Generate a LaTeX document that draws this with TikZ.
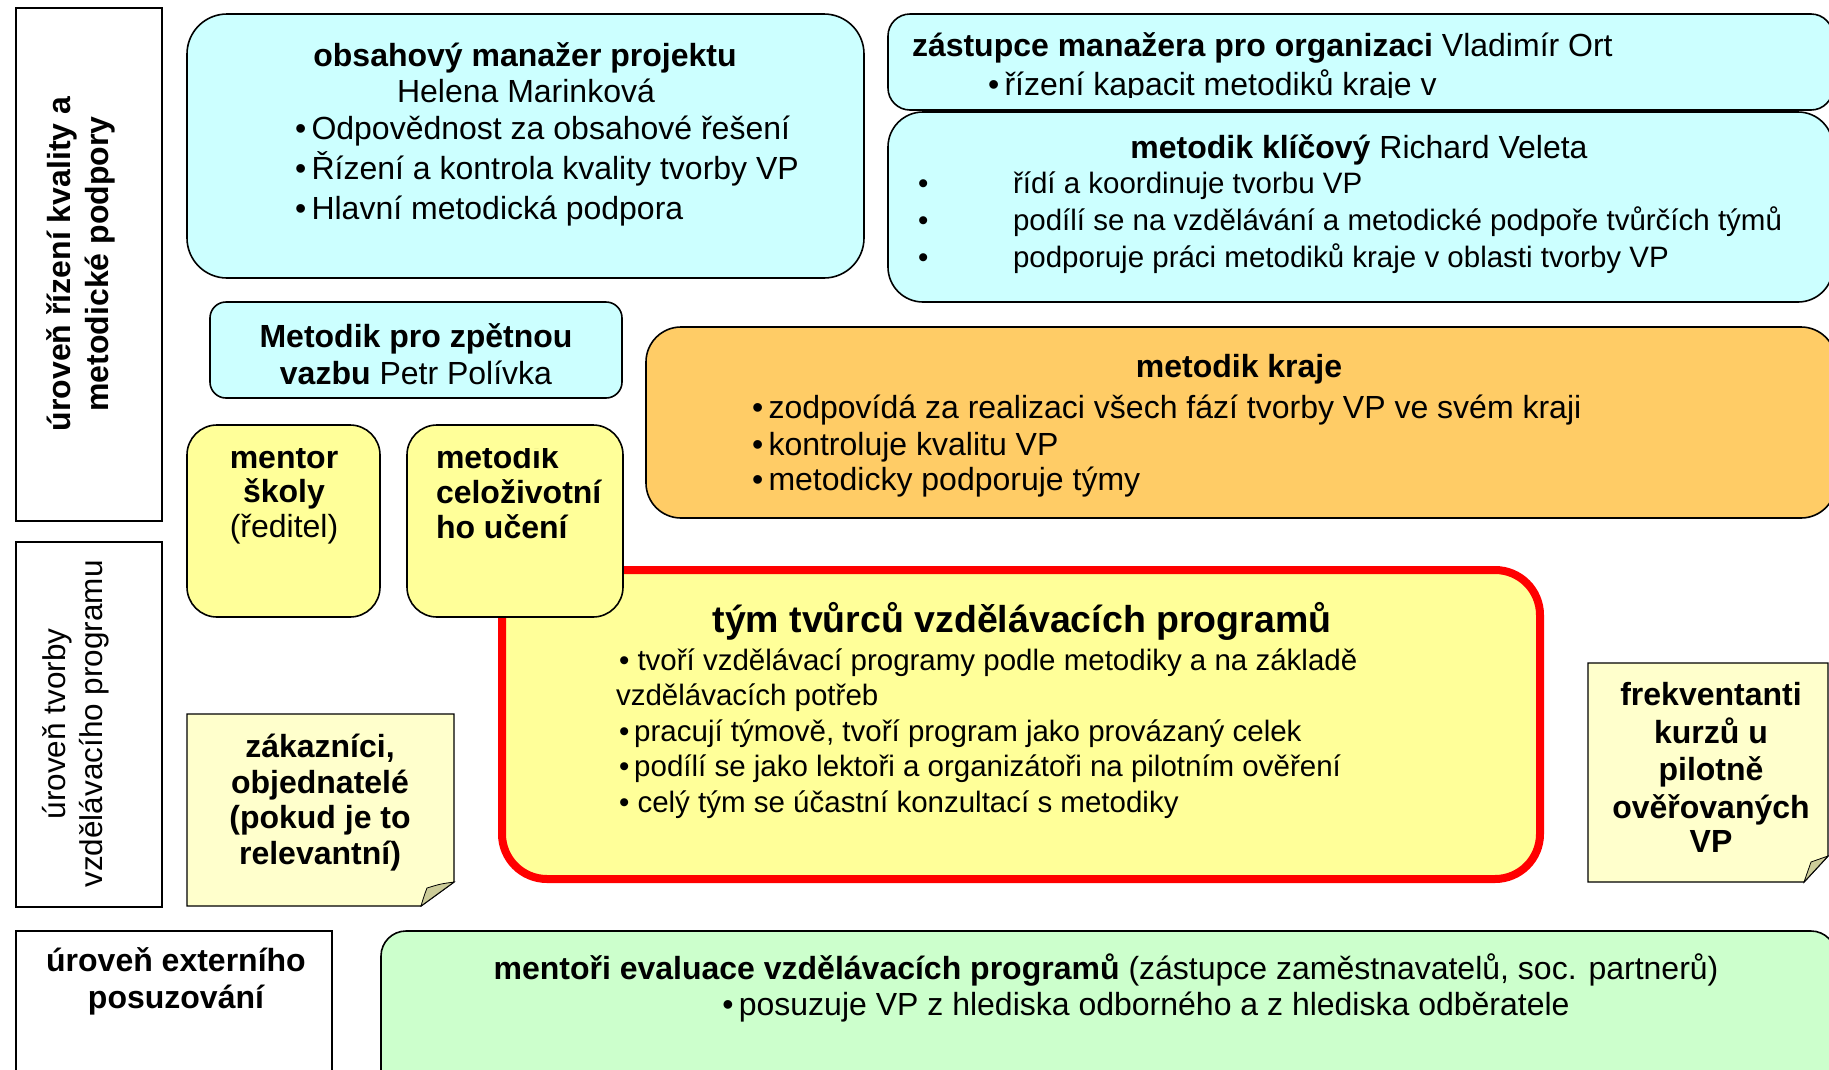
\documentclass[tikz,border=0pt]{standalone}
\usepackage{fontspec}
\setmainfont{Liberation Sans}
\definecolor{cyanbox}{HTML}{CCFFFF}
\definecolor{orangebox}{HTML}{FFCC66}
\definecolor{yellowbox}{HTML}{FFFF99}
\definecolor{notebox}{HTML}{FFFFCC}
\definecolor{greenbox}{HTML}{CCFFCC}
\definecolor{foldc}{HTML}{CCCC99}
\newcommand\fsz[2]{\fontsize{#1}{#2}\selectfont}
\begin{document}
\begin{tikzpicture}[x=1pt,y=-1pt,
  box/.style={draw=black,line width=1.6pt,anchor=north west,inner sep=0pt,outer sep=0pt},
  txt/.style={inner sep=0pt,outer sep=0pt,font=\fsz{32}{38}},
  btxt/.style={txt,font=\bfseries\fsz{32}{38}},
  stxt/.style={txt,font=\fsz{29.5}{36}},
  notestyle/.style={draw=black,line width=1.4pt,fill=notebox,line join=miter},
  foldstyle/.style={draw=black,line width=0.8pt,fill=foldc},
]
\useasboundingbox (0,0) rectangle (1829,1069);
\clip (0,0) rectangle (1829,1069);

% ---- level labels
\node[box, minimum width=146, minimum height=513] (L1) at (16,8) {};
\node[box, minimum width=146, minimum height=365] (L2) at (16,542) {};
\node[box, minimum width=316, minimum height=170] (L3) at (16,931) {};
\node[txt, rotate=90, anchor=base, align=center, font=\bfseries\fsz{32}{38}] (L1t) at (108,264) {úroveň řízení kvality a\\metodické podpory};
\node[txt, rotate=90, anchor=base, align=center, font=\fsz{31.5}{37}] (L2t) at (102,724) {úroveň tvorby\\vzdělávacího programu};
\node[btxt, anchor=base] (L3a) at (176,971) {úroveň externího};
\node[btxt, anchor=base] (L3b) at (176,1008) {posuzování};

% ---- obsahovy manazer
\node[box, fill=cyanbox, rounded corners=40, minimum width=677, minimum height=264] (obsah) at (187,14) {};
\node[btxt, anchor=base] (obsahT) at (525,66) {obsahový manažer projektu};
\node[txt, anchor=base] (obsahN) at (526,102) {Helena Marinková};
\node[txt, anchor=base west] (obsah1) at (295,139) {•\,Odpovědnost za obsahové řešení};
\node[txt, anchor=base west] (obsah2) at (295,179) {•\,Řízení a kontrola kvality tvorby VP};
\node[txt, anchor=base west] (obsah3) at (295,219) {•\,Hlavní metodická podpora};

% ---- zastupce
\node[box, fill=cyanbox, rounded corners=22, minimum width=945, minimum height=96] (zast) at (888,14) {};
\node[txt, anchor=base west] (zastT) at (912,56) {\textbf{zástupce manažera pro organizaci} Vladimír Ort};
\begin{scope}
  \clip (888,14) rectangle (1829,97);
  \node[txt, anchor=base west] (zast1) at (988,95) {•\,řízení kapacit metodiků kraje v};
\end{scope}

% ---- metodik klicovy
\node[box, fill=cyanbox, rounded corners=35, minimum width=945, minimum height=190] (klic) at (888,112) {};
\node[txt, anchor=base] (klicT) at (1359,158) {\textbf{metodik klíčový} Richard Veleta};
\node[stxt, anchor=base west] (klicb1) at (918,193) {•};
\node[stxt, anchor=base west] (klicb2) at (918,230) {•};
\node[stxt, anchor=base west] (klicb3) at (918,267) {•};
\node[stxt, anchor=base west] (klic1) at (1013,193) {řídí a koordinuje tvorbu VP};
\node[stxt, anchor=base west] (klic2) at (1013,230) {podílí se na vzdělávání a metodické podpoře tvůrčích týmů};
\node[stxt, anchor=base west] (klic3) at (1013,267) {podporuje práci metodiků kraje v oblasti tvorby VP};

% ---- metodik pro zpetnou vazbu
\node[box, fill=cyanbox, rounded corners=16, minimum width=412, minimum height=96] (zpet) at (210,302) {};
\node[btxt, anchor=base] (zpet1) at (416,347) {Metodik pro zpětnou};
\node[txt, anchor=base] (zpet2) at (416,384) {\textbf{vazbu} Petr Polívka};

% ---- metodik kraje
\node[box, fill=orangebox, rounded corners=35, minimum width=1190, minimum height=191] (kraje) at (646,327) {};
\node[btxt, anchor=base] (krajeT) at (1239,377) {metodik kraje};
\node[txt, anchor=base west] (kraje1) at (752,418) {•\,zodpovídá za realizaci všech fází tvorby VP ve svém kraji};
\node[txt, anchor=base west] (kraje2) at (752,455) {•\,kontroluje kvalitu VP};
\node[txt, anchor=base west] (kraje3) at (752,490) {•\,metodicky podporuje týmy};

% ---- tym tvurcu
\node[box, draw=red, line width=8pt, fill=yellowbox, rounded corners=45, minimum width=1038, minimum height=309] (tym) at (502,570) {};
\node[txt, anchor=base, font=\bfseries\fsz{37.5}{44}] (tymT) at (1022,632) {tým tvůrců vzdělávacích programů};
\node[stxt, anchor=base west] (tym1) at (619,670) {• tvoří vzdělávací programy podle metodiky a na základě};
\node[stxt, anchor=base west] (tym1b) at (616,705.5) {vzdělávacích potřeb};
\node[stxt, anchor=base west] (tym2) at (619,741) {•\,pracují týmově, tvoří program jako provázaný celek};
\node[stxt, anchor=base west] (tym3) at (619,776.5) {•\,podílí se jako lektoři a organizátoři na pilotním ověření};
\node[stxt, anchor=base west] (tym4) at (619,812) {• celý tým se účastní konzultací s metodiky};

% ---- mentor skoly, metodik celozivotniho uceni
\node[box, fill=yellowbox, rounded corners=30, minimum width=193, minimum height=192] (mentor) at (187,425) {};
\node[box, fill=yellowbox, rounded corners=30, minimum width=216, minimum height=192] (celo) at (407,425) {};
\begin{scope}
  \clip (187,448.5) rectangle (623,617);
  \node[btxt, anchor=base] (mentor1) at (284,468) {mentor};
  \node[btxt, anchor=base] (mentor2) at (284,502) {školy};
  \node[txt, anchor=base] (mentor3) at (284,537) {(ředitel)};
  \node[btxt, anchor=base west] (celo1) at (436,468) {metodik};
  \node[btxt, anchor=base west] (celo2) at (436,503) {celoživotní};
  \node[btxt, anchor=base west] (celo3) at (436,538) {ho učení};
\end{scope}

% ---- zakaznici (note)
\draw[notestyle] (187,714) -- (454,714) -- (454,882) -- (421,906) -- (187,906) -- cycle;
\draw[foldstyle] (454,882) .. controls (440,884) .. (427,888) .. controls (424,896) .. (421,906) -- cycle;
\node[btxt, anchor=base] (zak1) at (320,757) {zákazníci,};
\node[btxt, anchor=base] (zak2) at (320,793) {objednatelé};
\node[btxt, anchor=base] (zak3) at (320,828) {(pokud je to};
\node[btxt, anchor=base] (zak4) at (320,864) {relevantní)};

% ---- frekventanti (note)
\draw[notestyle] (1588,663) -- (1828,663) -- (1828,856) -- (1804,882) -- (1588,882) -- cycle;
\draw[foldstyle] (1828,856) .. controls (1820,859) .. (1811,862) .. controls (1808,872) .. (1804,882) -- cycle;
\node[btxt, anchor=base] (frek1) at (1711,705) {frekventanti};
\node[btxt, anchor=base] (frek2) at (1711,743) {kurzů u};
\node[btxt, anchor=base] (frek3) at (1711,780) {pilotně};
\node[btxt, anchor=base] (frek4) at (1711,818) {ověřovaných};
\node[btxt, anchor=base] (frek5) at (1711,852) {VP};

% ---- mentori evaluace
\node[box, fill=greenbox, rounded corners=25, minimum width=1455, minimum height=170] (ment) at (381,931) {};
\node[txt, anchor=base] (ment1) at (1106,979) {\textbf{mentoři evaluace vzdělávacích programů} (zástupce zaměstnavatelů, soc. partnerů)};
\node[txt, anchor=base] (ment2) at (1146,1015) {•\,posuzuje VP z hlediska odborného a z hlediska odběratele};
\end{tikzpicture}
\end{document}
